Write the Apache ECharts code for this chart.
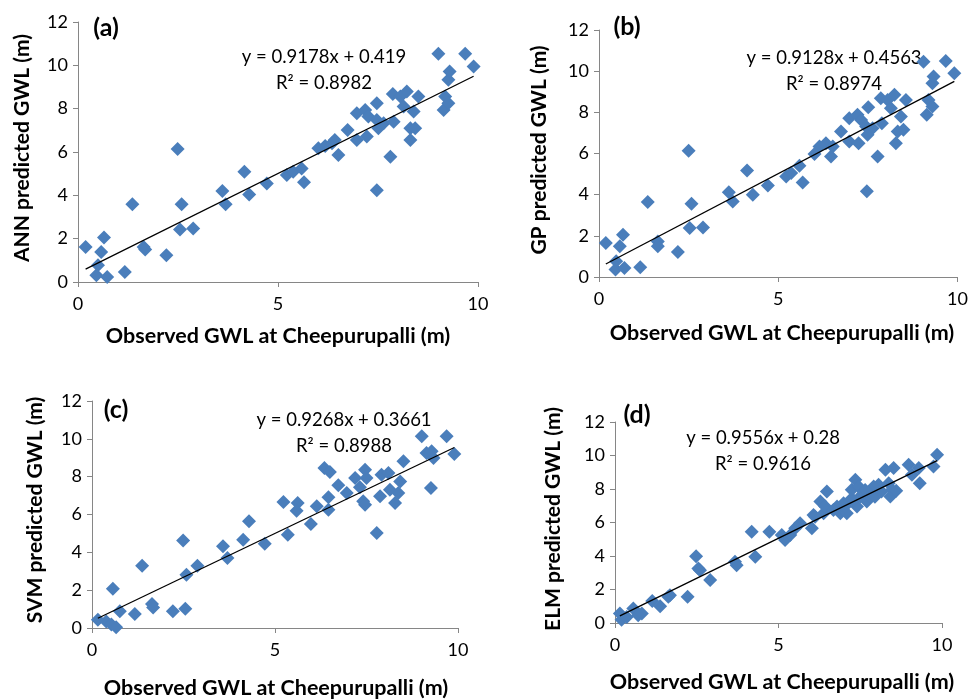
<!DOCTYPE html>
<html>
<head>
<meta charset="utf-8">
<script src="https://cdn.jsdelivr.net/npm/echarts@6/dist/echarts.min.js"></script>
<style>
  html, body { margin: 0; padding: 0; background: #fff; }
  #chart { width: 971px; height: 699px; }
</style>
</head>
<body>
<div id="chart"></div>
<script>
// observed vs predicted GWL
const obsA = [0.19,0.65,0.58,0.50,0.46,0.73,1.17,1.36,1.64,1.68,2.21,2.49,2.59,2.55,2.88,3.61,3.69,4.16,4.28,4.72,5.22,5.38,5.59,5.65,6.01,6.18,6.35,6.51,6.42,6.74,6.97,6.97,7.18,7.22,7.26,7.47,7.47,7.47,7.51,7.64,7.81,7.87,7.89,8.06,8.14,8.22,8.31,8.31,8.39,8.43,8.51,9.01,9.14,9.18,9.26,9.26,9.29,9.68,9.89];
const predA = [1.62,2.05,1.39,0.77,0.31,0.23,0.46,3.59,1.62,1.50,1.23,6.14,3.59,2.42,2.47,4.20,3.59,5.09,4.04,4.55,4.94,5.09,5.24,4.60,6.17,6.28,6.40,5.86,6.55,7.02,7.79,6.55,7.94,6.71,7.64,8.25,7.48,4.24,7.10,7.33,5.78,8.68,7.40,8.56,8.10,8.79,6.55,7.10,7.87,7.10,8.56,10.53,7.94,8.56,8.25,9.33,9.72,10.53,9.95];

const obsB = [0.19,0.67,0.58,0.48,0.46,0.71,1.15,1.36,1.64,1.64,2.20,2.50,2.58,2.53,2.90,3.62,3.73,4.13,4.29,4.71,5.22,5.36,5.59,5.68,6.01,6.15,6.33,6.47,6.52,6.75,6.98,6.98,7.21,7.24,7.31,7.51,7.45,7.47,7.49,7.63,7.77,7.86,7.89,8.05,8.14,8.24,8.28,8.33,8.42,8.49,8.56,9.05,9.14,9.19,9.30,9.30,9.33,9.67,9.91];
const predB = [1.65,2.05,1.49,0.76,0.36,0.44,0.47,3.64,1.73,1.49,1.21,6.13,3.56,2.38,2.41,4.12,3.67,5.18,3.99,4.45,4.88,5.05,5.40,4.59,5.98,6.34,6.50,5.85,6.34,7.07,7.71,6.58,7.88,6.50,7.63,8.25,7.31,4.16,6.91,7.23,5.85,8.69,7.47,8.60,8.20,8.85,6.50,7.07,7.80,7.15,8.60,10.46,7.88,8.60,8.28,9.41,9.74,10.50,9.90];

const obsC = [0.16,0.57,0.39,0.53,0.66,0.76,1.17,1.37,1.64,1.67,2.21,2.49,2.55,2.58,2.88,3.58,3.70,4.29,4.13,4.72,5.23,5.62,5.59,5.35,5.98,6.14,6.46,6.46,6.35,6.50,6.73,6.96,7.19,7.32,7.46,7.50,7.41,7.46,7.78,7.87,7.91,8.10,8.14,8.28,8.37,8.42,8.51,9.01,9.14,9.28,9.33,9.26,9.69,9.90];
const predC = [0.44,2.08,0.35,0.18,0.04,0.88,0.74,3.29,1.27,1.09,0.88,4.62,1.02,2.82,3.29,4.32,3.70,5.64,4.67,4.46,6.66,6.61,6.20,4.93,5.50,6.43,6.91,6.25,8.46,8.25,7.54,7.14,7.93,7.44,8.37,7.93,6.70,6.52,5.02,6.96,8.10,8.19,7.31,6.61,7.14,7.75,8.81,10.13,9.25,9.34,8.99,7.40,10.13,9.20];

const obsD = [0.15,0.20,0.36,0.56,0.71,0.82,1.14,1.38,1.63,1.68,2.22,2.48,2.55,2.60,2.91,3.67,3.72,4.18,4.29,4.72,5.20,5.36,5.51,5.66,6.02,6.07,6.28,6.48,6.38,6.43,6.79,6.89,6.99,7.09,7.19,7.24,7.35,7.40,7.45,7.50,7.60,7.70,7.81,7.91,8.06,8.27,8.37,8.42,8.52,8.47,8.98,9.08,9.29,9.32,9.74,9.85,6.68,7.03,7.29,7.65,7.95,8.15,8.60,6.12,5.10];
const predD = [0.56,0.20,0.36,0.86,0.46,0.56,1.32,1.00,1.56,1.66,1.56,3.99,3.25,3.15,2.56,3.65,3.45,5.45,3.95,5.45,4.95,5.25,5.65,5.95,5.65,6.45,7.25,7.85,6.55,6.95,6.95,6.55,7.15,6.55,7.35,7.95,8.55,6.95,8.15,7.55,7.75,7.25,7.55,8.15,8.25,9.15,8.35,7.55,9.25,7.95,9.45,8.85,9.25,8.35,9.35,10.04,6.75,6.95,7.34,7.94,7.54,7.85,7.90,6.35,5.25];

// trendline coefficients shown on each panel
const slopes = [0.9178, 0.9128, 0.9268, 0.9556];
const intercepts = [0.419, 0.4563, 0.3661, 0.28];
const r2 = ['0.8982', '0.8974', '0.8988', '0.9616'];
const panelTags = ['(a)', '(b)', '(c)', '(d)'];
const yTitles = ['ANN predicted GWL (m)', 'GP predicted GWL (m)', 'SVM predicted GWL (m)', 'ELM predicted GWL (m)'];
const xTitle = 'Observed GWL at Cheepurupalli (m)';

const obsAll = [obsA, obsB, obsC, obsD];
const predAll = [predA, predB, predC, predD];

// panel layout (pixels)
const grids = [
    { left: 78, top: 22, width: 400, height: 260 },
    { left: 599, top: 30, width: 359, height: 247 },
    { left: 92, top: 401, width: 366, height: 227 },
    { left: 615, top: 422, width: 327, height: 201 }
];
const tagPos = [[106, 28], [627, 27], [116, 410], [637, 415]];
const eqPos = [[324, 57], [834, 58], [344, 420], [763, 438]];
const xTitlePos = [[278, 336], [782, 333], [276, 688], [782, 682]];
const yTitlePos = [[22, 148], [539, 150], [35, 510], [553, 519]];

const FONT = 'Lato, "Open Sans", sans-serif';
const axisGray = '#868686';
const markerBlue = '#4a7ebb';

function txt(x, y, str, font, rot) {
    return {
        type: 'text', x: x, y: y, rotation: rot || 0, silent: true,
        style: { text: str, font: font, fill: '#000', align: 'center', verticalAlign: 'middle' }
    };
}

let xAxes = [], yAxes = [], series = [], graphics = [];
for (let i = 0; i < 4; i++) {
    xAxes.push({
        gridIndex: i, type: 'value', min: 0, max: 10, interval: 5,
        axisLine: { show: true, onZero: false, lineStyle: { color: axisGray, width: 1 } },
        axisTick: { show: true, length: 5, lineStyle: { color: axisGray } },
        splitLine: { show: false },
        axisLabel: { fontFamily: FONT, fontSize: 18, color: '#000', margin: 13 }
    });
    yAxes.push({
        gridIndex: i, type: 'value', min: 0, max: 12, interval: 2,
        axisLine: { show: true, onZero: false, lineStyle: { color: axisGray, width: 1 } },
        axisTick: { show: true, length: 5, lineStyle: { color: axisGray } },
        splitLine: { show: false },
        axisLabel: { fontFamily: FONT, fontSize: 18, color: '#000', margin: 10 }
    });

    let pts = obsAll[i].map((x, k) => [x, predAll[i][k]]);
    series.push({
        type: 'scatter', xAxisIndex: i, yAxisIndex: i,
        symbol: 'diamond', symbolSize: 14,
        itemStyle: { color: markerBlue, opacity: 1 },
        data: pts, z: 2
    });

    let x0 = Math.min(...obsAll[i]), x1 = Math.max(...obsAll[i]);
    series.push({
        type: 'line', xAxisIndex: i, yAxisIndex: i, showSymbol: false, silent: true,
        lineStyle: { color: '#000', width: 1.3 },
        data: [[x0, slopes[i] * x0 + intercepts[i]], [x1, slopes[i] * x1 + intercepts[i]]],
        z: 3
    });

    graphics.push(txt(tagPos[i][0], tagPos[i][1], panelTags[i], 'bold 25px ' + FONT));
    graphics.push(txt(eqPos[i][0], eqPos[i][1], 'y = ' + slopes[i] + 'x + ' + intercepts[i], '18.5px ' + FONT));
    graphics.push(txt(eqPos[i][0], eqPos[i][1] + 26, 'R² = ' + r2[i], '18.5px ' + FONT));
    graphics.push(txt(xTitlePos[i][0], xTitlePos[i][1], xTitle, 'bold 21.5px ' + FONT));
    graphics.push(txt(yTitlePos[i][0], yTitlePos[i][1], yTitles[i], 'bold 21px ' + FONT, Math.PI / 2));
}

let chart = echarts.init(document.getElementById('chart'), null, { renderer: 'canvas' });
chart.setOption({
    animation: false,
    backgroundColor: '#fff',
    grid: grids,
    xAxis: xAxes,
    yAxis: yAxes,
    series: series,
    graphic: graphics
});
</script>
</body>
</html>
